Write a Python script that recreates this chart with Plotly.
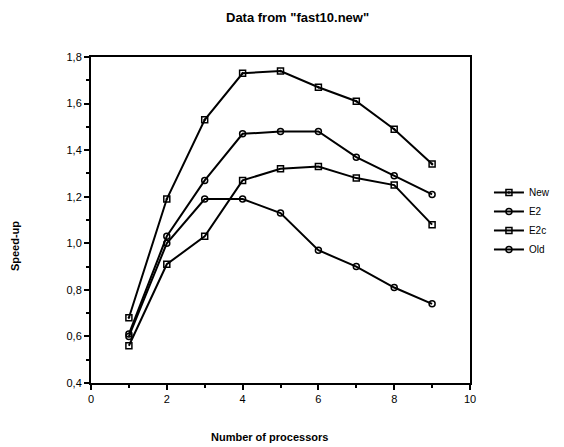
import plotly.graph_objects as go

procs = [1, 2, 3, 4, 5, 6, 7, 8, 9]
new_vals = [0.68, 1.19, 1.53, 1.73, 1.74, 1.67, 1.61, 1.49, 1.34]
e2_vals = [0.61, 1.03, 1.27, 1.47, 1.48, 1.48, 1.37, 1.29, 1.21]
e2c_vals = [0.56, 0.91, 1.03, 1.27, 1.32, 1.33, 1.28, 1.25, 1.08]
old_vals = [0.60, 1.00, 1.19, 1.19, 1.13, 0.97, 0.90, 0.81, 0.74]

series = [
    ("New", new_vals, "square-open-dot"),
    ("E2", e2_vals, "circle-open"),
    ("E2c", e2c_vals, "square-open"),
    ("Old", old_vals, "circle-open"),
]

FONT = "Liberation Sans, Arial, sans-serif"

fig = go.Figure()
for name, vals, sym in series:
    fig.add_trace(go.Scatter(
        x=procs, y=vals, name=name, mode="lines+markers",
        line=dict(color="black", width=2),
        marker=dict(symbol=sym, size=6, color="black", line=dict(width=1.5, color="black")),
    ))

axis_common = dict(
    showline=True, linecolor="black", linewidth=2, mirror=True,
    ticks="outside", ticklen=5, tickwidth=1.5, tickcolor="black",
    showgrid=False, zeroline=False,
    tickfont=dict(family=FONT, size=11, color="black"),
)

fig.update_layout(
    width=564, height=447,
    margin=dict(l=91, r=94, t=57, b=64, autoexpand=False),
    paper_bgcolor="white", plot_bgcolor="white",
    separators=", ",
    showlegend=True,
    legend=dict(x=1.05, y=0.497, xanchor="left", yanchor="middle",
                font=dict(family=FONT, size=10, color="black"),
                tracegroupgap=0, itemwidth=30, bgcolor="rgba(0,0,0,0)"),
    xaxis=dict(range=[0, 10], tickvals=[0, 2, 4, 6, 8, 10],
               minor=dict(ticks="outside", ticklen=3, tickcolor="black", dtick=1),
               **axis_common),
    yaxis=dict(range=[0.4, 1.8], tickvals=[0.4, 0.6, 0.8, 1.0, 1.2, 1.4, 1.6, 1.8],
               tickformat=".1f",
               minor=dict(ticks="outside", ticklen=3, tickcolor="black", dtick=0.1),
               **axis_common),
    annotations=[
        dict(text="<b>Data from \"fast10.new\"</b>", xref="paper", yref="paper",
             x=0.545, y=1.0, yshift=40, xanchor="center", yanchor="middle", showarrow=False,
             font=dict(family=FONT, size=13, color="black")),
        dict(text="<b>Speed-up</b>", xref="paper", yref="paper",
             x=0, xshift=-76, y=0.42, textangle=-90, xanchor="center", yanchor="middle",
             showarrow=False, font=dict(family=FONT, size=11, color="black")),
        dict(text="<b>Number of processors</b>", xref="paper", yref="paper",
             x=0.47, y=0, yshift=-54, xanchor="center", yanchor="middle",
             showarrow=False, font=dict(family=FONT, size=11, color="black")),
    ],
)

fig.write_html("out.html")
